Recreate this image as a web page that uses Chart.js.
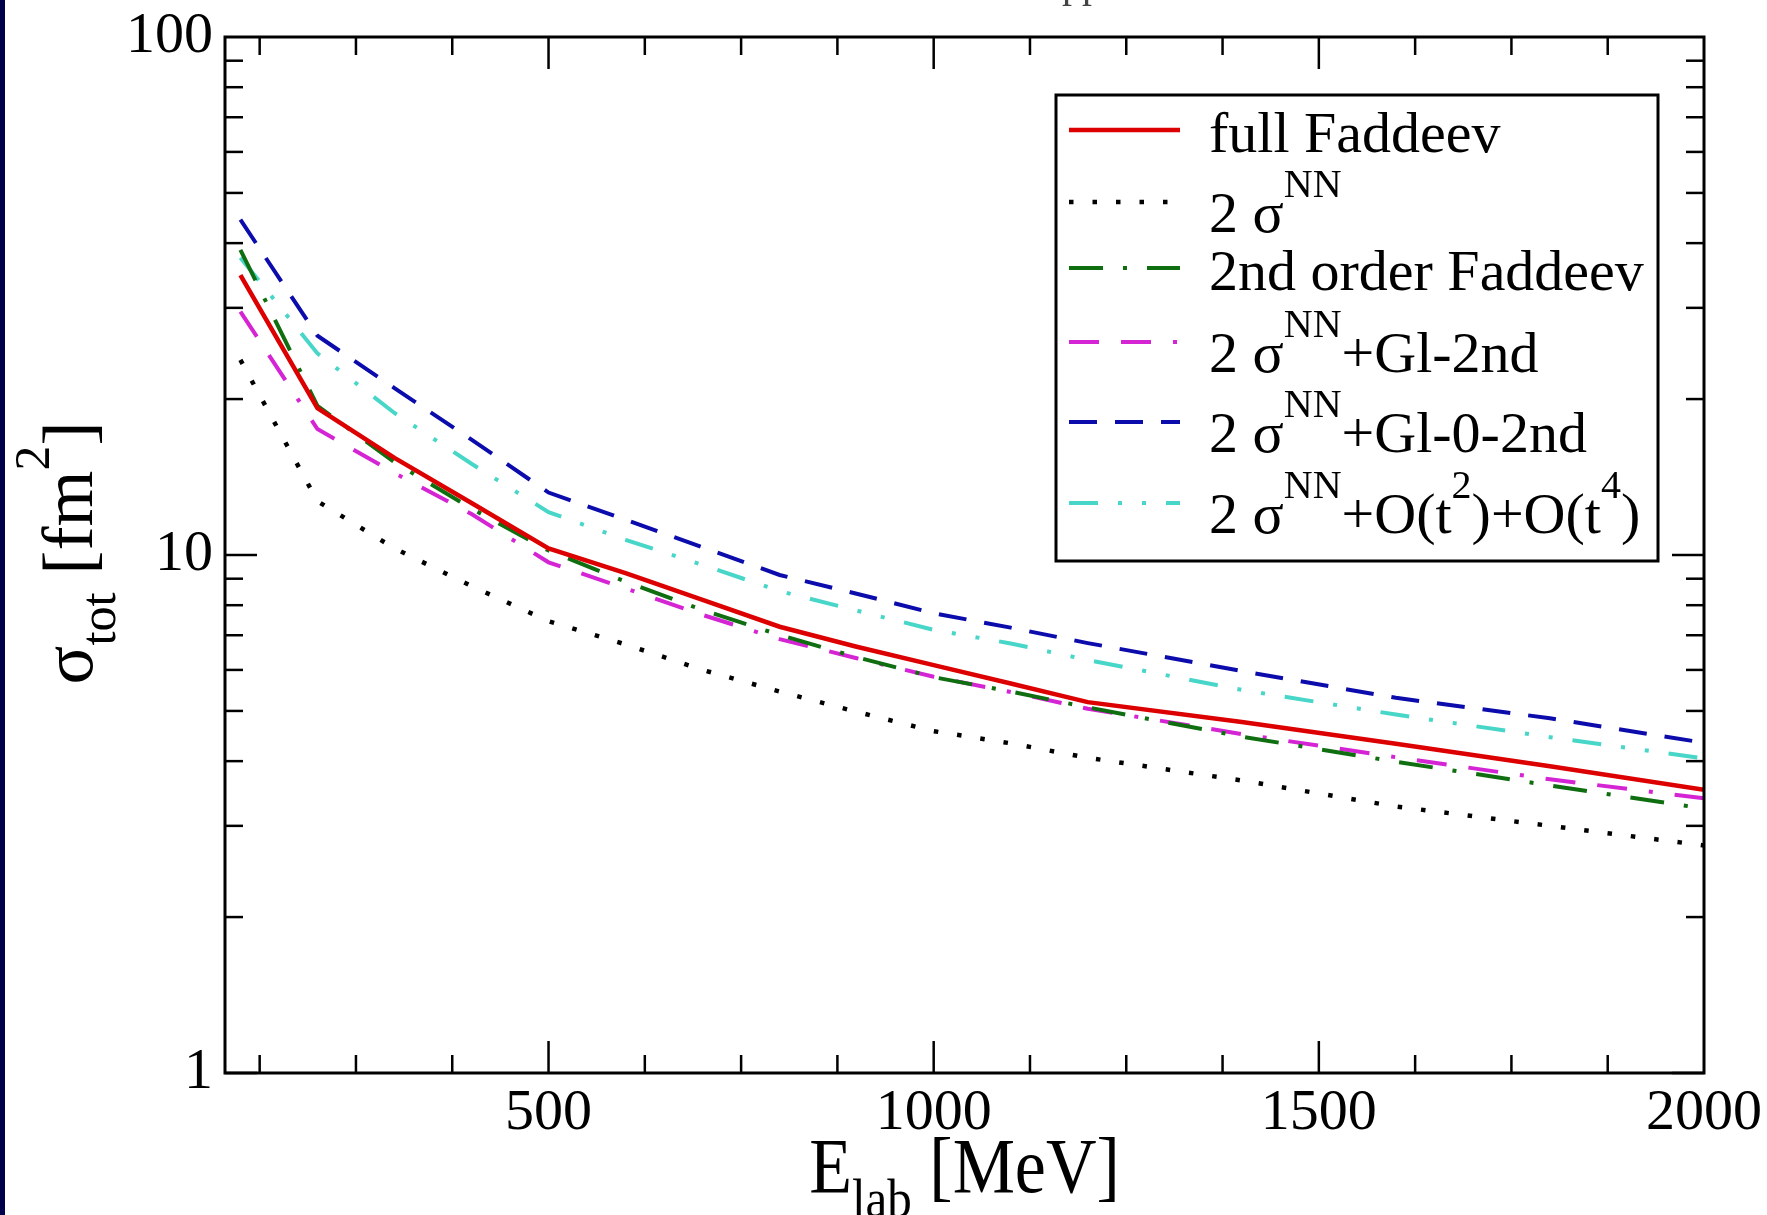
<!DOCTYPE html>
<html>
<head>
<meta charset="utf-8">
<title>sigma tot</title>
<script src="https://cdn.jsdelivr.net/npm/chart.js@4.4.0/dist/chart.umd.min.js"></script>
<style>
html, body { margin: 0; padding: 0; background: #fff; }
#wrap { position: relative; width: 1767px; height: 1215px; }
#strip { position: absolute; left: 0; top: 0; width: 5px; height: 1215px; background: #00004a; }
</style>
</head>
<body>
<div id="wrap">
<canvas id="grafico" width="1767" height="1215"></canvas>
<div id="strip"></div>
</div>
<script>
// DATA (E_lab in MeV, sigma_tot in fm^2)
const energies = [100, 200, 300, 400, 500, 600, 700, 800, 900, 1000, 1100, 1200, 1400, 1600, 1800, 2000];

const fullFaddeev  = [34.7, 19.2, 15.4, 12.6, 10.3, 9.23, 8.19, 7.27, 6.65, 6.13, 5.65, 5.20, 4.76, 4.32, 3.91, 3.52];
const twoSigmaNN   = [23.8, 12.7, 10.3, 8.71, 7.45, 6.72, 6.00, 5.45, 4.98, 4.57, 4.33, 4.06, 3.67, 3.27, 3.00, 2.75];
const secondOrder  = [38.8, 19.4, 15.1, 12.3, 10.2, 8.88, 7.83, 7.01, 6.35, 5.81, 5.45, 5.08, 4.46, 3.99, 3.59, 3.24];
const glauber2nd   = [29.5, 17.5, 14.4, 12.0, 9.68, 8.62, 7.66, 6.88, 6.32, 5.82, 5.44, 5.05, 4.51, 4.07, 3.69, 3.39];
const glauber02nd  = [44.4, 26.5, 21.0, 16.7, 13.2, 11.7, 10.35, 9.15, 8.42, 7.72, 7.24, 6.76, 5.97, 5.30, 4.84, 4.34];
const orderT2T4    = [37.5, 24.5, 18.8, 15.0, 12.1, 10.7, 9.57, 8.52, 7.81, 7.17, 6.75, 6.27, 5.49, 4.92, 4.45, 4.05];

const seriesLabels = [
  'full Faddeev',
  '2 σ^{NN}',
  '2nd order Faddeev',
  '2 σ^{NN}+Gl-2nd',
  '2 σ^{NN}+Gl-0-2nd',
  '2 σ^{NN}+O(t^{2})+O(t^{4})'
];

const xTicks = [500, 1000, 1500, 2000];
const yTicks = [1, 10, 100];

const FONT = '"Liberation Serif", "Times New Roman", serif';

// draws text with ^{..} and _{..} pieces, returns width
function richText(ctx, text, x, y, size, measureOnly) {
  const parts = text.match(/\^\{[^}]*\}|_\{[^}]*\}|[^^_]+/g) || [];
  let cx = x;
  for (const p of parts) {
    let s = p, fs = size, dy = 0;
    if (p.startsWith('^{')) { s = p.slice(2, -1); fs = size * 0.69; dy = -size * 0.6; }
    else if (p.startsWith('_{')) { s = p.slice(2, -1); fs = size * 0.7; dy = size * 0.32; }
    ctx.font = fs + 'px ' + FONT;
    if (!measureOnly) ctx.fillText(s, cx, y + dy);
    cx += ctx.measureText(s).width;
  }
  return cx - x;
}

function line(ctx, x1, y1, x2, y2) {
  ctx.beginPath(); ctx.moveTo(x1, y1); ctx.lineTo(x2, y2); ctx.stroke();
}

// frame with inward ticks on all four sides
const frame = {
  id: 'frame',
  afterDatasetsDraw(chart) {
    const ctx = chart.ctx, a = chart.chartArea, x = chart.scales.x, y = chart.scales.y;
    ctx.save();
    ctx.strokeStyle = '#000';
    ctx.lineWidth = 2.5;
    for (let v = 125; v < 2000; v += 125) {
      const px = x.getPixelForValue(v);
      const len = v % 500 === 0 ? 32 : 18;
      line(ctx, px, a.bottom, px, a.bottom - len);
      line(ctx, px, a.top, px, a.top + len);
    }
    for (const d of [1, 10]) {
      for (let k = 1; k <= 9; k++) {
        const py = y.getPixelForValue(d * k);
        const len = k === 1 ? 32 : 18;
        line(ctx, a.left, py, a.left + len, py);
        line(ctx, a.right, py, a.right - len, py);
      }
    }
    ctx.lineWidth = 3;
    ctx.strokeRect(a.left, a.top, a.right - a.left, a.bottom - a.top);
    ctx.restore();
  }
};

// axis titles with sub/superscripts
const titles = {
  id: 'titles',
  afterDraw(chart) {
    const ctx = chart.ctx, a = chart.chartArea;
    ctx.save();
    ctx.fillStyle = '#000';
    ctx.textBaseline = 'alphabetic';
    // x title
    const xt = 'E_{lab} [MeV]';
    const wx = richText(ctx, xt, 0, 0, 70, true);
    ctx.save();
    ctx.translate((a.left + a.right) / 2 - wx / 2, 1192);
    ctx.scale(1, 1.12);
    richText(ctx, xt, 0, 0, 70);
    ctx.restore();
    // y title
    const yt = 'σ_{tot} [fm^{2}]';
    const wy = richText(ctx, yt, 0, 0, 72, true);
    ctx.save();
    ctx.translate(92, 553);
    ctx.rotate(-Math.PI / 2);
    richText(ctx, yt, -wy / 2, 0, 72);
    ctx.restore();
    // top title, cut by the page edge
    ctx.font = '40px ' + FONT;
    ctx.fillStyle = '#444';
    ctx.fillText('pp', 1062, -3);
    ctx.restore();
  }
};

// legend box like the original
const legendBox = {
  id: 'legendBox',
  afterDraw(chart) {
    const ctx = chart.ctx;
    const box = { left: 1056, top: 95, right: 1658, bottom: 561 };
    const baselines = [152, 232, 290, 372, 452, 533];
    ctx.save();
    ctx.fillStyle = '#fff';
    ctx.fillRect(box.left, box.top, box.right - box.left, box.bottom - box.top);
    ctx.strokeStyle = '#000';
    ctx.lineWidth = 3;
    ctx.strokeRect(box.left, box.top, box.right - box.left, box.bottom - box.top);
    chart.data.datasets.forEach((ds, i) => {
      const b = baselines[i];
      const hasSup = seriesLabels[i].indexOf('^{') >= 0;
      const ly = b - (hasSup ? 30 : 22);
      ctx.save();
      ctx.strokeStyle = ds.borderColor;
      ctx.lineWidth = ds.borderWidth;
      ctx.setLineDash(ds.borderDash || []);
      line(ctx, 1069, ly, 1180, ly);
      ctx.restore();
      ctx.fillStyle = '#000';
      richText(ctx, seriesLabels[i], 1209, b, 58);
    });
    ctx.restore();
  }
};

function serie(label, data, color, width, dash) {
  return {
    label: label,
    data: data.map((v, i) => ({ x: energies[i], y: v })),
    borderColor: color,
    backgroundColor: color,
    borderWidth: width,
    borderDash: dash,
    borderCapStyle: 'butt',
    pointRadius: 0,
    tension: 0,
    fill: false
  };
}

const ctx = document.getElementById('grafico').getContext('2d');

const grafico = new Chart(ctx, {
  type: 'line',
  data: {
    datasets: [
      serie(seriesLabels[0], fullFaddeev, '#dc0000', 4.5, []),
      serie(seriesLabels[1], twoSigmaNN, '#000000', 4.5, [4.5, 19]),
      serie(seriesLabels[2], secondOrder, '#0f6e0f', 4, [34, 20, 4, 20]),
      serie(seriesLabels[3], glauber2nd, '#d424d4', 4, [30, 22, 30, 22, 4, 22]),
      serie(seriesLabels[4], glauber02nd, '#0c0cac', 4, [28, 18]),
      serie(seriesLabels[5], orderT2T4, '#48d6c8', 4, [29, 20, 4, 20, 4, 20])
    ]
  },
  options: {
    responsive: false,
    animation: false,
    devicePixelRatio: 1,
    layout: { padding: { left: 0, right: 63, top: 37, bottom: 0 } },
    plugins: {
      legend: { display: false },
      tooltip: { enabled: false }
    },
    scales: {
      x: {
        type: 'linear',
        min: 80,
        max: 2000,
        grid: { display: false, drawTicks: false },
        border: { display: false },
        afterBuildTicks: (s) => { s.ticks = xTicks.map(v => ({ value: v })); },
        afterFit: (s) => { s.height = 142; s.paddingLeft = 0; s.paddingRight = 0; },
        ticks: {
          autoSkip: false,
          maxRotation: 0,
          padding: 6,
          color: '#000',
          font: { family: FONT, size: 58 },
          callback: (v) => String(v)
        }
      },
      y: {
        type: 'logarithmic',
        min: 1,
        max: 100,
        grid: { display: false, drawTicks: false },
        border: { display: false },
        afterBuildTicks: (s) => { s.ticks = yTicks.map(v => ({ value: v })); },
        afterFit: (s) => { s.width = 225; s.paddingTop = 0; s.paddingBottom = 0; },
        ticks: {
          autoSkip: false,
          padding: 12,
          color: '#000',
          font: { family: FONT, size: 58 },
          callback: (v) => String(v)
        }
      }
    }
  },
  plugins: [frame, titles, legendBox]
});
</script>
</body>
</html>
